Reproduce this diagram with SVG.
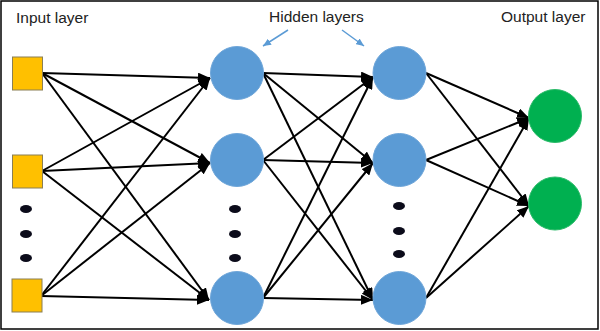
<svg xmlns="http://www.w3.org/2000/svg" width="600" height="331" viewBox="0 0 600 331">
<defs>
<style>
.lbl{font-family:"Liberation Sans",Arial,sans-serif;font-size:15.5px;fill:#222}
.sq{fill:#ffc000;stroke:#8a7f55;stroke-width:1}
.hid{fill:#5b9bd5;stroke:#6fa6d9;stroke-width:1}
.out{fill:#00b050;stroke:#2dbb6a;stroke-width:1}
.dot{fill:#0b0b1a}
.e{stroke:#000;stroke-width:2;fill:none;marker-end:url(#ah)}
.b{stroke:#5b9bd5;stroke-width:1.5;fill:none;marker-end:url(#bh)}
</style>
<marker id="ah" markerUnits="userSpaceOnUse" markerWidth="12" markerHeight="10" refX="12" refY="5" orient="auto">
<path d="M0,0 L12,5 L0,10 z" fill="#000"/>
</marker>
<marker id="bh" markerUnits="userSpaceOnUse" markerWidth="8" markerHeight="7" refX="8" refY="3.5" orient="auto">
<path d="M0,0 L8,3.5 L0,7 z" fill="#5b9bd5"/>
</marker>
</defs>
<rect x="1" y="1" width="597" height="328" fill="#fff" stroke="#000" stroke-width="1.5"/>
<g id="labels">
<text class="lbl" x="16" y="23">Input layer</text>
<text class="lbl" x="269" y="22">Hidden layers</text>
<text class="lbl" x="501" y="22">Output layer</text>
</g>
<g id="connectors">
<path class="b" d="M288,30 L263,46"/>
<path class="b" d="M342,30 L364,46"/>
<path class="e" d="M42,73 L210,78"/>
<path class="e" d="M42,73 L210,163"/>
<path class="e" d="M42,73 L209,300"/>
<path class="e" d="M42,171 L210,78"/>
<path class="e" d="M42,171 L210,163"/>
<path class="e" d="M42,171 L209,300"/>
<path class="e" d="M41,296 L210,78"/>
<path class="e" d="M41,296 L210,163"/>
<path class="e" d="M41,296 L209,300"/>
<path class="e" d="M263,73 L373,77"/>
<path class="e" d="M263,73 L373,163"/>
<path class="e" d="M263,73 L373,300"/>
<path class="e" d="M263,160 L373,77"/>
<path class="e" d="M263,160 L373,163"/>
<path class="e" d="M263,160 L373,300"/>
<path class="e" d="M263,298 L373,77"/>
<path class="e" d="M263,298 L373,163"/>
<path class="e" d="M263,298 L373,300"/>
<path class="e" d="M426,73 L529,118"/>
<path class="e" d="M426,73 L529,206"/>
<path class="e" d="M426,160 L529,118"/>
<path class="e" d="M426,160 L529,206"/>
<path class="e" d="M426,298 L529,118"/>
<path class="e" d="M426,298 L529,206"/>
</g>
<g id="input1"><rect class="sq" x="12.5" y="57" width="30" height="33"/></g>
<g id="input2"><rect class="sq" x="12.5" y="155" width="30" height="33"/></g>
<g id="input-dots"><ellipse class="dot" cx="26" cy="209" rx="6" ry="4"/><ellipse class="dot" cx="26" cy="234" rx="6" ry="4"/><ellipse class="dot" cx="26" cy="258" rx="6" ry="4"/></g>
<g id="input3"><rect class="sq" x="12" y="279" width="30" height="33"/></g>
<g id="h1a"><circle class="hid" cx="237" cy="73" r="26.5"/></g>
<g id="h1b"><circle class="hid" cx="237" cy="160" r="26.5"/></g>
<g id="h1-dots"><ellipse class="dot" cx="235" cy="209" rx="6" ry="4"/><ellipse class="dot" cx="235" cy="234" rx="6" ry="4"/><ellipse class="dot" cx="235" cy="258" rx="6" ry="4"/></g>
<g id="h1c"><circle class="hid" cx="237" cy="298" r="26.5"/></g>
<g id="h2a"><circle class="hid" cx="399.5" cy="73" r="26.5"/></g>
<g id="h2b"><circle class="hid" cx="399.5" cy="160" r="26.5"/></g>
<g id="h2-dots"><ellipse class="dot" cx="399" cy="206" rx="6" ry="4"/><ellipse class="dot" cx="399" cy="231" rx="6" ry="4"/><ellipse class="dot" cx="399" cy="254" rx="6" ry="4"/></g>
<g id="h2c"><circle class="hid" cx="399.5" cy="298" r="26.5"/></g>
<g id="o1"><circle class="out" cx="555" cy="116" r="26.5"/></g>
<g id="o2"><circle class="out" cx="555" cy="203.5" r="26.5"/></g>
</svg>
